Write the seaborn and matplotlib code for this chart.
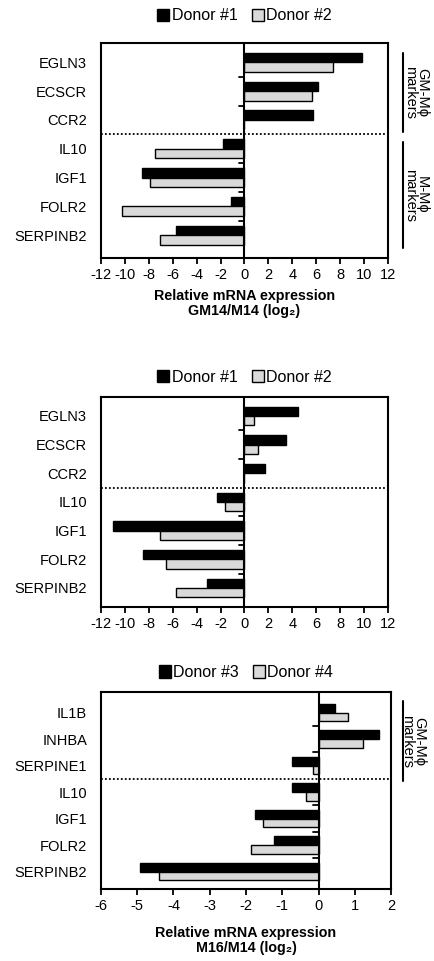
import matplotlib
matplotlib.use("Agg")
import matplotlib.pyplot as plt
import matplotlib.transforms as mtransforms
from matplotlib.patches import Patch
import seaborn as sns
import pandas as pd

genes_a = ["EGLN3", "ECSCR", "CCR2", "IL10", "IGF1", "FOLR2", "SERPINB2"]
p1_donor1 = [9.8, 6.15, 5.7, -1.8, -8.55, -1.15, -5.75]
p1_donor2 = [7.4, 5.65, 0.0, -7.45, -7.9, -10.25, -7.1]
p2_donor1 = [4.45, 3.5, 1.75, -2.3, -10.95, -8.45, -3.1]
p2_donor2 = [0.8, 1.1, 0.0, -1.6, -7.1, -6.55, -5.75]

genes_b = ["IL1B", "INHBA", "SERPINE1", "IL10", "IGF1", "FOLR2", "SERPINB2"]
p3_donor3 = [0.46, 1.66, -0.72, -0.72, -1.75, -1.23, -4.92]
p3_donor4 = [0.81, 1.23, -0.14, -0.34, -1.53, -1.85, -4.39]

ticks_a = list(range(-12, 13, 2))
ticks_b = list(range(-6, 3, 1))

sns.set_style("white")
plt.rcParams["font.family"] = ["Liberation Sans", "DejaVu Sans"]
for k in ["text.color", "axes.labelcolor", "xtick.color", "ytick.color"]:
    plt.rcParams[k] = "black"

COLORS = ["black", "#d9d9d9"]

fig = plt.figure(figsize=(4.35, 9.61), dpi=100)


def draw_panel(rect, genes, v1, v2, names, ticks, legend_y, xlabel=None,
               labelpad=4, brackets=(), bx=1.05, tx=1.09):
    ax = fig.add_axes(rect)
    df = pd.DataFrame({
        "gene": genes * 2,
        "donor": [names[0]] * len(genes) + [names[1]] * len(genes),
        "value": v1 + v2,
    })
    sns.barplot(data=df, y="gene", x="value", hue="donor", orient="h",
                palette=COLORS, edgecolor="black", linewidth=1.0,
                width=0.66, gap=0, ax=ax, legend=False)
    ax.set_xlim(ticks[0], ticks[-1])
    ax.set_xticks(ticks)
    ax.set_xticklabels([str(t) for t in ticks], fontsize=10.5)
    ax.set_ylabel("")
    ax.tick_params(axis="y", length=0, pad=10, labelsize=10.5)
    ax.tick_params(axis="x", length=4, width=1.3, pad=3, direction="out",
                   bottom=True)
    for s in ax.spines.values():
        s.set_linewidth(1.5)
        s.set_color("black")
    ax.axvline(0, color="black", lw=1.5, zorder=5)
    ax.axhline(2.5, color="black", lw=1.3, ls=(0, (1, 1.2)), zorder=5)
    # small ticks on the zero axis between genes
    span = ticks[-1] - ticks[0]
    for b in [0.5, 1.5, 3.5, 4.5, 5.5]:
        ax.plot([-0.018 * span, 0], [b, b], color="black", lw=1.3, zorder=5)
    if xlabel:
        ax.set_xlabel(xlabel, fontsize=10.3, fontweight="bold",
                      labelpad=labelpad, linespacing=1.15)
    else:
        ax.set_xlabel("")
    handles = [Patch(facecolor=c, edgecolor="black", linewidth=1.0)
               for c in COLORS]
    ax.legend(handles, names, loc="center", bbox_to_anchor=(0.5, legend_y),
              ncol=2, frameon=False, fontsize=11.5, handlelength=0.75,
              handleheight=0.8, handletextpad=0.15, columnspacing=0.9,
              borderaxespad=0)
    trans = mtransforms.blended_transform_factory(ax.transAxes, ax.transData)
    for y0, y1 in brackets:
        ax.plot([bx, bx], [y0, y1], color="black", lw=1.5,
                transform=trans, clip_on=False)
        label = "GM-Mϕ\nmarkers" if y0 < 2 else "M-Mϕ\nmarkers"
        ax.text(tx, (y0 + y1) / 2, label, rotation=270, ha="center",
                va="center", fontsize=10.5, linespacing=0.8,
                transform=trans)
    return ax


draw_panel([0.232, 0.7315, 0.660, 0.2237], genes_a, p1_donor1, p1_donor2,
           ["Donor #1", "Donor #2"], ticks_a, 1.126,
           xlabel="Relative mRNA expression\nGM14/M14 (log₂)", labelpad=5,
           brackets=[(-0.33, 2.4), (2.77, 6.45)], bx=1.052, tx=1.097)
draw_panel([0.232, 0.3684, 0.660, 0.2185], genes_a, p2_donor1, p2_donor2,
           ["Donor #1", "Donor #2"], ticks_a, 1.095)
draw_panel([0.232, 0.0746, 0.667, 0.205], genes_b, p3_donor3, p3_donor4,
           ["Donor #3", "Donor #4"], ticks_b, 1.10,
           xlabel="Relative mRNA expression\nM16/M14 (log₂)", labelpad=9,
           brackets=[(-0.43, 2.59)], bx=1.041, tx=1.077)

fig.savefig("out.png", dpi=100)
